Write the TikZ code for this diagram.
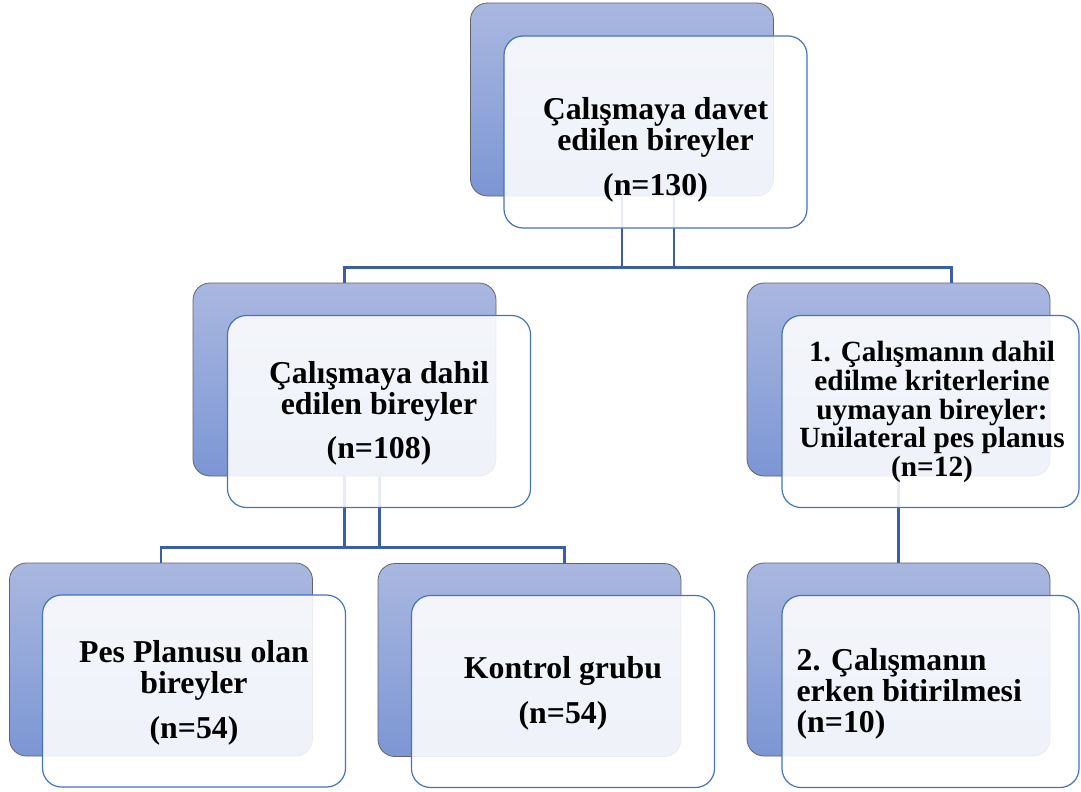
\documentclass[tikz,border=0pt]{standalone}
\usepackage{fontspec}
\setmainfont{Liberation Serif}
\usepackage{xcolor}
\usepackage{tikz}
\usetikzlibrary{
	calc,
	positioning
}
\definecolor{backtop}{RGB}{170,184,224}
\definecolor{backbot}{RGB}{124,150,212}
\definecolor{backline}{RGB}{98,100,106}
\definecolor{frontline}{RGB}{68,114,196}
\definecolor{linkblue}{RGB}{59,94,168}

\begin{document}
\begin{tikzpicture}[x=1pt, y=-1pt,
		backbox/.style={draw=backline, line width=0.8pt, rounded corners=17pt, top color=backtop, bottom color=backbot, minimum width=303pt, minimum height=193pt, inner sep=0pt},
		frontbox/.style={draw=frontline, line width=1.2pt, rounded corners=19pt, fill=white, fill opacity=0.88, minimum width=303pt, minimum height=192pt, inner sep=0pt},
		link/.style={draw=linkblue, line width=2.6pt},
		lbl/.style={font=\fontsize{31.8}{31}\selectfont\bfseries, align=center, inner sep=0pt}]
		\useasboundingbox (0,0) rectangle (1081,792);
		\node[backbox] (invB) at (622,99.5) {};
		\node[backbox] (incB) at (344.5,379.5) {};
		\node[backbox] (exB) at (898.5,379.5) {};
		\node[backbox] (pesB) at (161,659.5) {};
		\node[backbox] (ctlB) at (529.5,660) {};
		\node[backbox] (erkB) at (898.5,659.5) {};
		\draw[link] (invB.south) -- ++(0,71) -| ([xshift=53pt]exB.north);
		\draw[link] ([xshift=52pt]invB.south) -- ++(0,71) -| (incB.north);
		\draw[link] (incB.south) -- ++(0,71) -| ([xshift=35pt]ctlB.north);
		\draw[link] ([xshift=35pt]incB.south) -- ++(0,71) -| (pesB.north);
		\draw[link] (exB.south) -- (erkB.north);
		\node[frontbox] (inv) at ($(invB)+(33.5,32.5)$) {};
		\node[frontbox] (inc) at ($(incB)+(34.5,32)$) {};
		\node[frontbox, minimum width=297pt] (ex) at ($(exB)+(32,32)$) {};
		\node[frontbox] (pes) at ($(pesB)+(33,31.5)$) {};
		\node[frontbox] (ctl) at ($(ctlB)+(33.5,31.5)$) {};
		\node[frontbox, minimum width=297pt] (erk) at ($(erkB)+(32,32)$) {};
		\node[lbl] (invT) at ($(inv)+(0,17.5)$) {Çalışmaya davet\\edilen bireyler\\[14pt](n=130)};
		\node[lbl] (incT) at ($(inc)+(0,2)$) {Çalışmaya dahil\\edilen bireyler\\[13pt](n=108)};
		\node[lbl, font=\fontsize{29.3}{28.7}\selectfont\bfseries] (exT) at ($(ex)+(1.5,0.5)$) {1. Çalışmanın dahil\\edilme kriterlerine\\uymayan bireyler:\\Unilateral pes planus\\(n=12)};
		\node[lbl] (pesT) at ($(pes)+(0,1.5)$) {Pes Planusu olan\\bireyler\\[14pt](n=54)};
		\node[lbl] (ctlT) at ($(ctl)+(0,2)$) {Kontrol grubu\\[14pt](n=54)};
		\node[lbl, align=left, anchor=west] (erkT) at ($(erk.west)+(15,2)$) {2. Çalışmanın\\erken bitirilmesi\\(n=10)};
	\end{tikzpicture}
\end{document}
